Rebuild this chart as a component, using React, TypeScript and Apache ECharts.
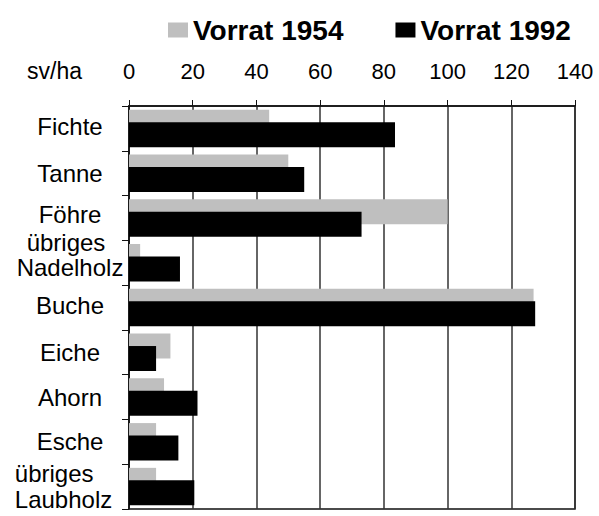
import React, { useEffect, useRef } from "react";
import * as echarts from "echarts";

const categories = ["Fichte", "Tanne", "Föhre", "übriges\nNadelholz", "Buche", "Eiche", "Ahorn", "Esche", "übriges\nLaubholz"];
const vorrat1954 = [44, 50, 100, 3.5, 127, 13, 11, 8.5, 8.5];
const vorrat1992 = [83.5, 55, 73, 16, 127.5, 8.5, 21.5, 15.5, 20.5];
const xTicks = { min: 0, max: 140, interval: 20 };
const seriesNames = ["Vorrat 1954", "Vorrat 1992"];
// vertical shift of each category label (px, negative = up) and its text style
const labelShift = [-2, 0, -3, -8, -2, 0, 0, 0, 0];
const labelStyle = ["t", "t", "t", "n", "t", "t", "t", "t", "l"];

const FONT = "'Liberation Sans', Arial, Helvetica, sans-serif";

export default function App() {
  const ref = useRef<HTMLDivElement>(null);
  useEffect(() => {
    if (!ref.current) return;
    const chart = echarts.init(ref.current, null, { renderer: "svg" });
    const base = { fontSize: 24, fontFamily: FONT, color: "#000" };
    const rich: Record<string, any> = {
      t: { ...base, lineHeight: 24 },
      n1: { ...base, lineHeight: 25, align: "left", padding: [0, 0, 0, 10] },
      n2: { ...base, lineHeight: 25 },
      l1: { ...base, lineHeight: 26, align: "left" },
      l2: { ...base, lineHeight: 26, padding: [0, 13, 0, 0] },
    };
    labelShift.forEach((s) => {
      const h = Math.abs(s) * 2;
      if (h > 0) rich["sp" + h] = { fontSize: 1, lineHeight: h, height: h };
    });
    chart.setOption({
      animation: false,
      backgroundColor: "#fff",
      textStyle: { fontFamily: FONT },
      legend: {
        left: 163,
        top: 11,
        itemWidth: 20,
        itemHeight: 15,
        itemGap: 52,
        icon: "rect",
        textStyle: { fontSize: 28, fontWeight: "bold", color: "#000", fontFamily: FONT },
        data: seriesNames,
      },
      graphic: [
        {
          type: "text",
          left: 27,
          top: 59,
          style: { text: "sv/ha", fontSize: 23, fill: "#000", fontFamily: FONT },
        },
      ],
      grid: {
        left: 129,
        right: 24,
        top: 106,
        bottom: 7,
        show: true,
        borderColor: "#111",
        borderWidth: 1.5,
        backgroundColor: "transparent",
      },
      xAxis: {
        type: "value",
        position: "top",
        min: xTicks.min,
        max: xTicks.max,
        interval: xTicks.interval,
        axisLine: { show: true, lineStyle: { color: "#111", width: 1.5 } },
        axisTick: { show: true, length: 6, lineStyle: { color: "#111" } },
        axisLabel: { fontSize: 22, color: "#000", margin: 24, fontFamily: FONT },
        splitLine: { show: true, lineStyle: { color: "#333", width: 1.5 } },
      },
      yAxis: {
        type: "category",
        inverse: true,
        data: categories,
        axisLine: { show: true, lineStyle: { color: "#111", width: 1.5 } },
        axisTick: { show: true, length: 7, lineStyle: { color: "#111" } },
        axisLabel: {
          interval: 0,
          margin: 59,
          align: "center",
          color: "#000",
          fontSize: 24,
          fontFamily: FONT,
          formatter: (value: string, idx: number) => {
            const s = labelShift[idx] || 0;
            const st = labelStyle[idx] || "t";
            const parts = value.split("\n");
            const lines = parts.map((l, i) => (parts.length > 1 ? `{${st}${i + 1}|${l}}` : `{${st}|${l}}`));
            const h = Math.abs(s) * 2;
            if (s < 0) lines.push(`{sp${h}| }`);
            if (s > 0) lines.unshift(`{sp${h}| }`);
            return lines.join("\n");
          },
          rich,
        },
      },
      series: [
        {
          name: seriesNames[0],
          type: "bar",
          data: vorrat1954,
          barWidth: 25,
          barGap: "-50%",
          itemStyle: { color: "#bfbfbf" },
        },
        {
          name: seriesNames[1],
          type: "bar",
          data: vorrat1992,
          barWidth: 25,
          barGap: "-50%",
          itemStyle: { color: "#000" },
        },
      ],
    });
    return () => chart.dispose();
  }, []);
  return <div ref={ref} style={{ width: 599, height: 516, position: "absolute", left: 0, top: 0 }} />;
}
